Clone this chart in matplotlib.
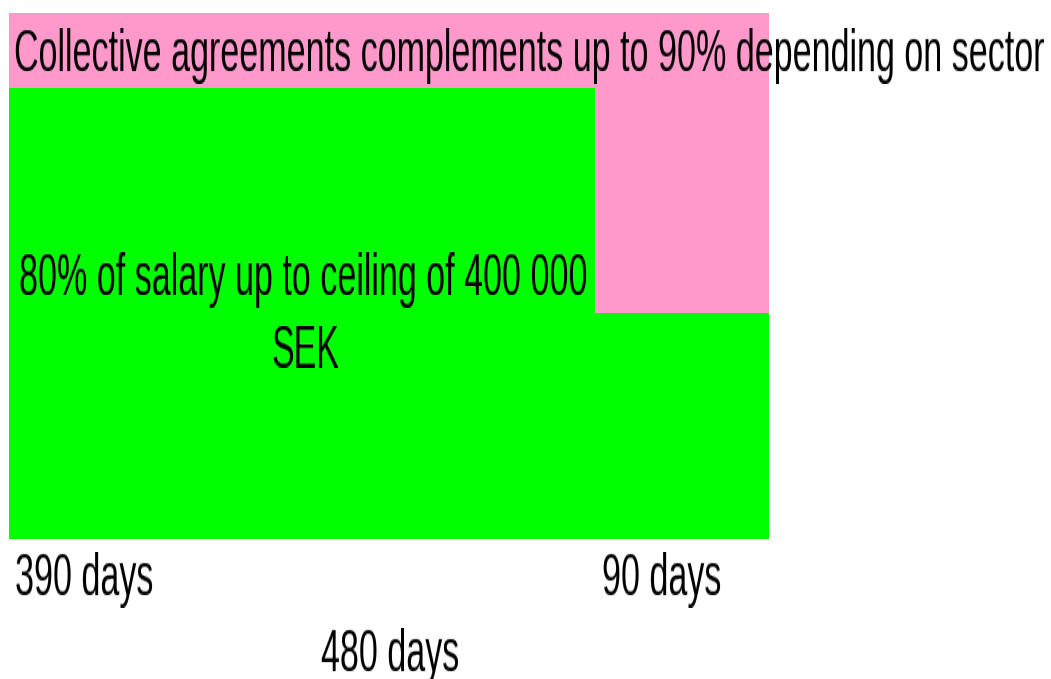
import matplotlib
matplotlib.use("Agg")
import numpy as np
import matplotlib.pyplot as plt
from matplotlib.patches import Rectangle

# ---- data ----
days_base = 390
days_extra = 90
days_total = 480
base_label_lines = ["80% of salary up to ceiling of 400 000", "SEK"]
top_label = "Collective agreements complements up to 90% depending on sector"
day_labels = [f"{days_base} days", f"{days_extra} days", f"{days_total} days"]

GREEN = "#00ff00"
PINK = "#ff99cc"
FAMILY = "Liberation Sans"

fig = plt.figure(figsize=(10.51, 6.79), dpi=100)
ax = fig.add_axes([0, 0, 1, 1])
ax.set_xlim(0, 1051)
ax.set_ylim(679, 0)
ax.axis("off")

# layout (pixel units)
ax.add_patch(Rectangle((9, 13), 760, 75, facecolor=PINK, edgecolor="none"))
ax.add_patch(Rectangle((9, 88), 760, 451, facecolor=GREEN, edgecolor="none"))
ax.add_patch(Rectangle((595, 88), 174, 225, facecolor=PINK, edgecolor="none"))

# text specs: (string, x, ha, ink top y, target width)
specs = [
    (top_label, 14, "left", 28, 1033),
    (base_label_lines[0], 303, "center", 252, 566),
    (base_label_lines[1], 305, "center", 325, None),
    (day_labels[0], 15, "left", 552, 137),
    (day_labels[1], 602, "left", 552, 116),
    (day_labels[2], 390, "center", 628, 136),
]
CAP_TARGET = 44.0

fs0 = 30
objs = []
for s, x, ha, top, w in specs:
    objs.append(ax.text(x, top, s, ha=ha, va="baseline", fontsize=fs0, family=FAMILY))
fig.canvas.draw()
r = fig.canvas.get_renderer()
tw = sum(w for (_, _, _, _, w) in specs if w)
mw = sum(o.get_window_extent(r).width for o, (_, _, _, _, w) in zip(objs, specs) if w)
fs = fs0 * tw / mw
cap_u = 0.716 * fs * 100 / 72.0
stretch = CAP_TARGET / cap_u


def make_filter(k):
    def f(img, dpi):
        h = img.shape[0]
        H = int(round(h * k))
        src = (np.arange(H) + 0.5) / k - 0.5
        src = np.clip(src, 0, h - 1)
        i0 = np.floor(src).astype(int)
        i1 = np.minimum(i0 + 1, h - 1)
        wgt = (src - i0)[:, None, None]
        out = img[i0] * (1 - wgt) + img[i1] * wgt
        return out, 0, h - H
    return f


for o, (s, x, ha, top, w) in zip(objs, specs):
    o.set_fontsize(fs)
    o.set_y(top + cap_u)
    o.set_agg_filter(make_filter(stretch))

fig.savefig("out.png", dpi=100)
